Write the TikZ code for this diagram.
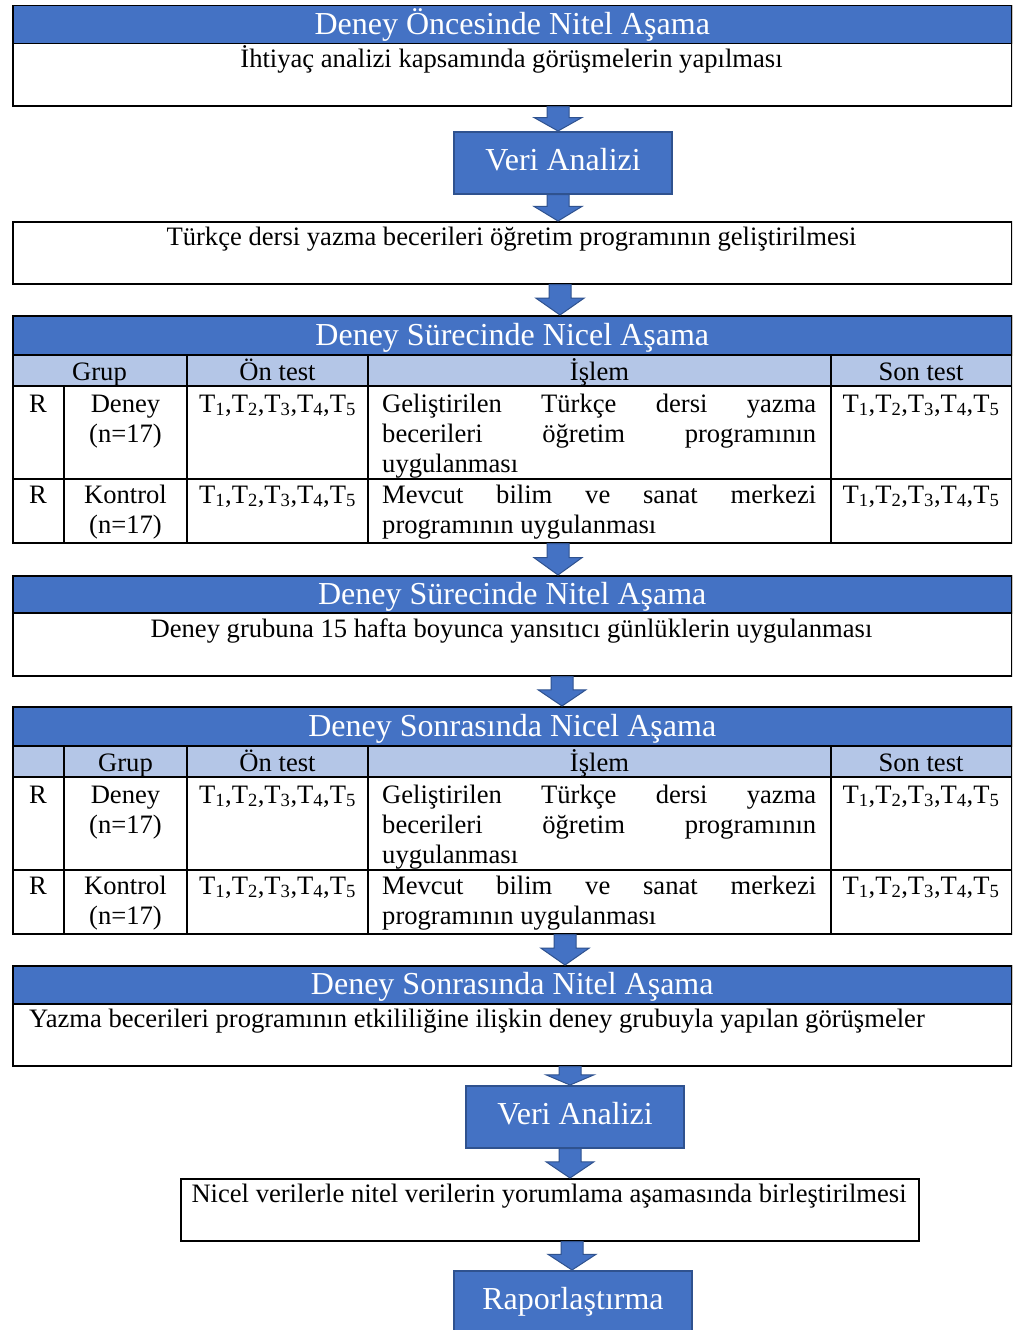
\documentclass[tikz,border=0pt]{standalone}
\usepackage{fontspec}
\setmainfont{Liberation Serif}
\usetikzlibrary{calc}
\definecolor{hblue}{HTML}{4472C4}
\definecolor{dblue}{HTML}{2F528F}
\definecolor{lblue}{HTML}{B4C6E7}
\newcommand{\bodyf}{\fontsize{26.6pt}{30pt}\selectfont}
\newcommand{\headf}{\fontsize{32pt}{36pt}\selectfont}
\newcommand{\Tset}{T\textsubscript{1},T\textsubscript{2},T\textsubscript{3},T\textsubscript{4},T\textsubscript{5}}
\tikzset{
 frame/.style={draw=black, line width=1.5pt, inner sep=0pt, anchor=north west},
 hdr/.style={draw=black, line width=1.5pt, fill=hblue, inner sep=0pt, anchor=north west, text=white, font=\headf, text height=24pt, text depth=4pt},
 subrow/.style={fill=lblue, inner sep=0pt, anchor=north west},
 gridline/.style={draw=black, line width=1.2pt},
 txt/.style={inner sep=0pt, anchor=base, font=\bodyf},
 txtl/.style={inner sep=0pt, anchor=base west, font=\bodyf},
 bluebox/.style={draw=dblue, line width=1.5pt, fill=hblue, text=white, font=\headf, inner sep=0pt, text height=22pt, text depth=7pt, anchor=north},
 arr/.style={fill=hblue, draw=dblue, line width=1pt, line join=miter}
}
\newcommand{\fatarrow}[2]{\filldraw[arr] let \p1=(#1), \p2=(#2), \n1={0.55*(\y1-\y2)} in
 (\x1-11pt,\y1) -- (\x1+11pt,\y1) -- (\x1+11pt,\y2+\n1) -- (\x1+24pt,\y2+\n1) -- (\x1,\y2)
 -- (\x1-24pt,\y2+\n1) -- (\x1-11pt,\y2+\n1) -- cycle;}
% #1 yshift, #2 prefix, #3 title, #4 start of first vertical line, #5 x of "Grup"
\newcommand{\studytable}[5]{%
\begin{scope}[yshift=#1]
 \node[subrow, minimum width=999pt, minimum height=32pt] (#2s) at (12,354) {};
 \node[hdr, minimum width=999pt, minimum height=39pt] (#2h) at (12,315) {#3};
 \draw[gridline] (12,386) -- (1011,386);
 \draw[gridline] (12,479) -- (1011,479);
 \draw[gridline] (64,#4) -- (64,542);
 \draw[gridline] (187,354) -- (187,542);
 \draw[gridline] (368,354) -- (368,542);
 \draw[gridline] (831,354) -- (831,542);
 \node[frame, minimum width=999pt, minimum height=227pt] (#2f) at (12,315) {};
 \node[txt] (#2g) at (#5,380) {Grup};
 \node[txt] (#2o) at (277.5,380) {Ön test};
 \node[txt] (#2i) at (599.5,380) {İşlem};
 \node[txt] (#2n) at (921,380) {Son test};
 \node[txt] (#2ra) at (38,412) {R};
 \node[txt] (#2da) at (125.5,412) {Deney};
 \node[txt] (#2db) at (125.5,442) {(n=17)};
 \node[txt] (#2ta) at (277.5,412) {\Tset};
 \node[txtl] (#2pa) at (382,412) {\makebox[434pt][s]{Geliştirilen Türkçe dersi yazma}};
 \node[txtl] (#2pb) at (382,442) {\makebox[434pt][s]{becerileri öğretim programının}};
 \node[txtl] (#2pc) at (382,472) {uygulanması};
 \node[txt] (#2sa) at (921,412) {\Tset};
 \node[txt] (#2rb) at (38,503) {R};
 \node[txt] (#2ka) at (125.5,503) {Kontrol};
 \node[txt] (#2kb) at (125.5,533) {(n=17)};
 \node[txt] (#2tb) at (277.5,503) {\Tset};
 \node[txtl] (#2qa) at (382,503) {\makebox[434pt][s]{Mevcut bilim ve sanat merkezi}};
 \node[txtl] (#2qb) at (382,533) {programının uygulanması};
 \node[txt] (#2sb) at (921,503) {\Tset};
\end{scope}}
\begin{document}
\begin{tikzpicture}[x=1pt,y=-1pt]
\useasboundingbox (0,0) rectangle (1012,1330);
\fill[white] (0,0) rectangle (1012,1330);
\clip (0,0) rectangle (1012,1330);
% Box 1
\node[hdr, minimum width=999pt, minimum height=38pt] (b1h) at (12,5) {Deney Öncesinde Nitel Aşama};
\node[frame, minimum width=999pt, minimum height=100pt] (b1) at (12,5) {};
\node[txt] (b1t) at (511.5,67) {İhtiyaç analizi kapsamında görüşmelerin yapılması};
% Veri Analizi 1
\node[bluebox, minimum width=218pt, minimum height=62pt] (va1) at (563,131) {Veri Analizi};
% Box 2
\node[frame, minimum width=999pt, minimum height=62pt] (b2) at (12,221) {};
\node[txt] (b2t) at (511.5,245) {Türkçe dersi yazma becerileri öğretim programının geliştirilmesi};
% Table 1
\studytable{0pt}{ta}{Deney Sürecinde Nicel Aşama}{386}{99.5}
% Box 3
\node[hdr, minimum width=999pt, minimum height=37pt] (b3h) at (12,575) {Deney Sürecinde Nitel Aşama};
\node[frame, minimum width=999pt, minimum height=100pt] (b3) at (12,575) {};
\node[txt] (b3t) at (511.5,637) {Deney grubuna 15 hafta boyunca yansıtıcı günlüklerin uygulanması};
% Table 2
\studytable{-391pt}{tb}{Deney Sonrasında Nicel Aşama}{354}{125.5}
% Box 4
\node[hdr, minimum width=999pt, minimum height=38pt] (b4h) at (12,965) {Deney Sonrasında Nitel Aşama};
\node[frame, minimum width=999pt, minimum height=100pt] (b4) at (12,965) {};
\node[txt] (b4t) at (477,1027) {Yazma becerileri programının etkililiğine ilişkin deney grubuyla yapılan görüşmeler};
% Veri Analizi 2
\node[bluebox, minimum width=218pt, minimum height=62pt] (va2) at (575,1085) {Veri Analizi};
% Box 5
\node[frame, minimum width=738pt, minimum height=62pt] (b5) at (180,1178) {};
\node[txt] (b5t) at (549,1202) {Nicel verilerle nitel verilerin yorumlama aşamasında birleştirilmesi};
% Raporlastirma
\node[bluebox, minimum width=238pt, minimum height=62pt] (rap) at (573,1270) {Raporlaştırma};
% arrows
\coordinate (x1) at (558,0);
\coordinate (x2) at (558,0);
\coordinate (x3) at (560,0);
\coordinate (x4) at (558,0);
\coordinate (x5) at (562,0);
\coordinate (x6) at (565,0);
\coordinate (x7) at (570,0);
\coordinate (x8) at (570,0);
\coordinate (x9) at (572,0);
\fatarrow{b1.south -| x1}{va1.north -| x1}
\fatarrow{va1.south -| x2}{b2.north -| x2}
\fatarrow{b2.south -| x3}{tah.north -| x3}
\fatarrow{taf.south -| x4}{b3.north -| x4}
\fatarrow{b3.south -| x5}{tbh.north -| x5}
\fatarrow{tbf.south -| x6}{b4.north -| x6}
\fatarrow{b4.south -| x7}{va2.north -| x7}
\fatarrow{va2.south -| x8}{b5.north -| x8}
\fatarrow{b5.south -| x9}{rap.north -| x9}
\end{tikzpicture}
\end{document}
